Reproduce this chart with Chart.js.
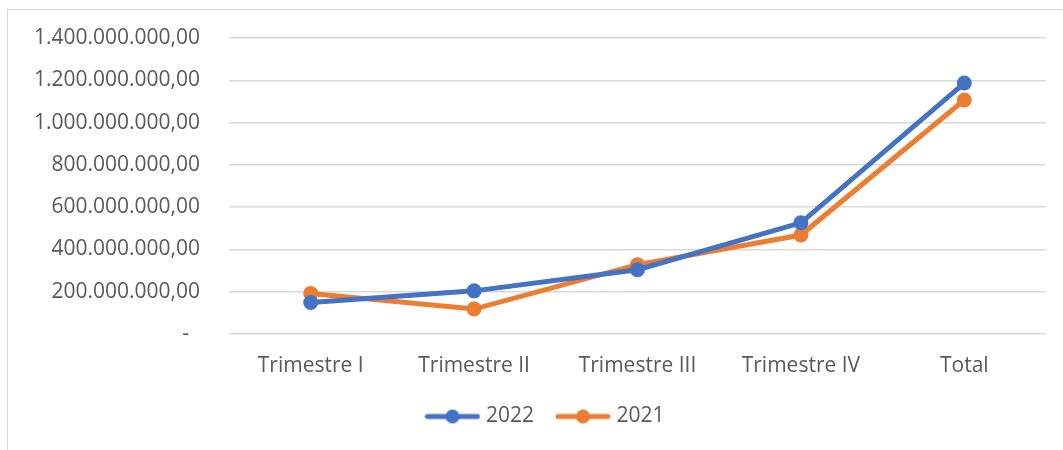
<!DOCTYPE html>
<html>
<head>
<meta charset="utf-8">
<script src="https://cdn.jsdelivr.net/npm/chart.js@4.4.0/dist/chart.umd.min.js"></script>
<style>
  html, body { margin: 0; padding: 0; background: #fff; }
  #frame { position: absolute; left: 7px; top: 9px; width: 1100px; height: 500px; border: 1px solid #d9d9d9; }
  #wrap { position: absolute; left: 0; top: 0; width: 1063px; height: 450px; }
</style>
</head>
<body>
<div id="frame"></div>
<div id="wrap"><canvas id="chart" width="1063" height="450"></canvas></div>
<script>
// categories and series
const categories = ['Trimestre I', 'Trimestre II', 'Trimestre III', 'Trimestre IV', 'Total'];
const values2022 = [149000000, 204000000, 304000000, 526000000, 1187000000];
const values2021 = [192000000, 118000000, 328000000, 468000000, 1107000000];
const seriesNames = ['2022', '2021'];
const colors = ['#4472C4', '#ED7D31'];

const textColor = '#595959';
const fontFamily = "'Open Sans', 'Liberation Sans', sans-serif";

// 1.400.000.000,00 style, zero shown as a dash
function fmt(v) {
  if (v === 0) return '-  ';
  const s = Math.round(v).toString().replace(/\B(?=(\d{3})+(?!\d))/g, '.');
  return s + ',00';
}

// legend symbol: a short line with a dot in the middle
function legendSymbol(color) {
  const c = document.createElement('canvas');
  c.width = 56; c.height = 16;
  const g = c.getContext('2d');
  g.strokeStyle = color;
  g.lineWidth = 5;
  g.lineCap = 'round';
  g.beginPath(); g.moveTo(3, 8); g.lineTo(53, 8); g.stroke();
  g.fillStyle = color;
  g.beginPath(); g.arc(28, 8, 7, 0, Math.PI * 2); g.fill();
  return c;
}

// nudge the legend a bit right, like in the original
const legendShift = {
  id: 'legendShift',
  afterLayout(chart) {
    chart.legend.left += 24;
    chart.legend.right += 24;
  }
};

const ctx = document.getElementById('chart').getContext('2d');
new Chart(ctx, {
  type: 'line',
  data: {
    labels: categories,
    datasets: [values2022, values2021].map((vals, i) => ({
      label: seriesNames[i],
      data: vals,
      borderColor: colors[i],
      backgroundColor: colors[i],
      pointBackgroundColor: colors[i],
      pointBorderWidth: 0,
      pointRadius: 7.5,
      pointStyle: 'circle',
      borderWidth: 5,
      tension: 0
    }))
  },
  plugins: [legendShift],
  options: {
    responsive: false,
    animation: false,
    layout: { padding: { top: 38, right: 17, bottom: 13, left: 0 } },
    scales: {
      x: {
        offset: true,
        grid: { display: false },
        border: { display: false },
        afterFit: (s) => { s.height = 46; },
        ticks: { color: textColor, font: { family: fontFamily, size: 21 }, padding: 11 }
      },
      y: {
        min: 0,
        max: 1400000000,
        grid: { color: '#d9d9d9', lineWidth: 1.5, drawTicks: false },
        border: { display: false },
        afterFit: (s) => { s.width = 229; s.paddingTop = 0; },
        ticks: {
          stepSize: 200000000,
          color: textColor,
          padding: 29,
          font: { family: fontFamily, size: 21 },
          callback: (v) => fmt(v)
        }
      }
    },
    plugins: {
      tooltip: { enabled: false },
      legend: {
        position: 'bottom',
        labels: {
          color: textColor,
          font: { family: fontFamily, size: 21 },
          usePointStyle: true,
          pointStyleWidth: 46,
          padding: 26,
          generateLabels: (chart) => chart.data.datasets.map((ds, i) => ({
            text: ds.label,
            pointStyle: legendSymbol(colors[i]),
            fillStyle: colors[i],
            strokeStyle: colors[i],
            lineWidth: 0,
            fontColor: textColor,
            datasetIndex: i
          }))
        }
      }
    }
  }
});
</script>
</body>
</html>
